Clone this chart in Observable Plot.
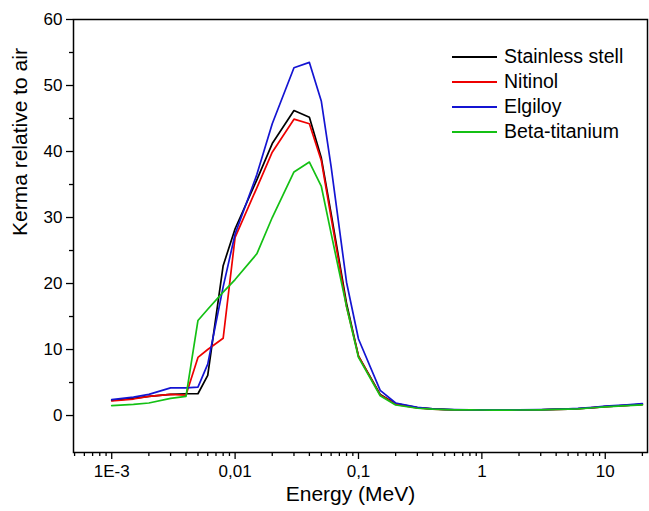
<!DOCTYPE html>
<html><head><meta charset="utf-8">
<script src="https://cdn.jsdelivr.net/npm/d3@7"></script>
<script src="https://cdn.jsdelivr.net/npm/@observablehq/plot@0.6"></script>
<style>
body{margin:0;background:#fff;font-family:"Liberation Sans",Arial,sans-serif;}
#wrap{position:relative;width:649px;height:511px;}
#legend{position:absolute;left:452px;top:44px;font-size:19.5px;color:#000;}
.row{display:flex;align-items:center;height:25px;}
.sw{width:45px;height:2px;margin-right:7px;}
</style></head><body><div id="wrap"><div id="legend"></div></div>
<script>
const energy = [0.001,0.0015,0.002,0.003,0.004,0.005,0.006,0.008,0.01,0.015,0.02,0.03,0.04,0.05,0.06,0.08,0.1,0.15,0.2,0.3,0.4,0.5,0.6,0.8,1,1.25,1.5,2,3,4,5,6,8,10,15,20];
const stainless = [2.3,2.6,2.9,3.2,3.3,3.3,6.1,22.7,28.3,35.7,41.2,46.2,45.2,39.0,30.6,17.0,9.0,3.2,1.8,1.2,1.0,0.92,0.88,0.85,0.84,0.83,0.83,0.84,0.88,0.93,0.98,1.03,1.2,1.35,1.55,1.7];
const nitinol = [2.2,2.5,2.9,3.2,3.1,8.8,10.0,11.7,27.0,34.5,39.9,44.9,44.2,38.6,30.0,16.5,9.0,3.1,1.7,1.15,0.98,0.9,0.87,0.85,0.84,0.83,0.83,0.84,0.88,0.93,0.98,1.03,1.2,1.35,1.55,1.7];
const elgiloy = [2.4,2.8,3.2,4.2,4.2,4.3,7.8,19.5,27.5,36.5,44.2,52.7,53.5,47.6,37.7,20.2,11.6,3.8,1.9,1.25,1.02,0.94,0.9,0.87,0.86,0.85,0.85,0.86,0.9,0.96,1.02,1.08,1.25,1.42,1.63,1.8];
const betaTitanium = [1.5,1.7,1.9,2.6,2.9,14.4,16.1,18.7,20.6,24.5,30.0,36.9,38.4,34.7,27.6,16.5,8.8,3.0,1.6,1.1,0.96,0.9,0.87,0.85,0.84,0.83,0.83,0.84,0.87,0.92,0.97,1.02,1.18,1.32,1.5,1.62];
const seriesNames = ["Stainless stell","Nitinol","Elgiloy","Beta-titanium"];
const seriesColors = ["#000000","#ee0000","#1414d2","#14c014"];
const xTickValues = [0.001,0.01,0.1,1,10];
const xTickLabels = ["1E-3","0,01","0,1","1","10"];
const yTickValues = [0,10,20,30,40,50,60];

const seriesValues = [stainless, nitinol, elgiloy, betaTitanium];
const data = seriesNames.flatMap((name, s) => energy.map((e, i) => ({energy: e, kerma: seriesValues[s][i], name})));
const xMinor = [];
for (const dec of [0.0001,0.001,0.01,0.1,1,10]) for (let m = 2; m <= 9; m++) { const v = dec*m; if (v > 4.9e-4 && v < 22) xMinor.push(v); }
const yMinor = [5,15,25,35,45,55];

const chart = Plot.plot({
  width: 649, height: 511,
  marginLeft: 73, marginRight: 2, marginTop: 19, marginBottom: 59,
  style: {fontFamily: "'Liberation Sans', Arial, sans-serif", fontSize: "17px", background: "#fff", color: "#000"},
  x: {type: "log", domain: [4.9e-4, 22]},
  y: {domain: [-5.6, 60]},
  color: {domain: seriesNames, range: seriesColors},
  marks: [
    Plot.axisX({ticks: xMinor, tickSize: 4, tickFormat: () => "", label: null, strokeWidth: 1.3}),
    Plot.axisX({ticks: xTickValues, tickSize: 7, tickPadding: 5, tickFormat: d => xTickLabels[xTickValues.indexOf(d)], label: null, strokeWidth: 1.3, fontSize: 17}),
    Plot.axisY({ticks: yMinor, tickSize: 4, tickFormat: () => "", label: null, strokeWidth: 1.3}),
    Plot.axisY({ticks: yTickValues, tickSize: 7, tickPadding: 4, label: null, strokeWidth: 1.3, fontSize: 17}),
    Plot.lineY(data, {x: "energy", y: "kerma", z: "name", stroke: "name", strokeWidth: 1.7}),
    Plot.frame({stroke: "#000", strokeWidth: 1.5}),
    Plot.text(["Kerma relative to air"], {frameAnchor: "left", rotate: -90, dx: -53, fontSize: 21}),
    Plot.text(["Energy (MeV)"], {frameAnchor: "bottom", dx: -10, dy: 48, fontSize: 21})
  ]
});
document.getElementById("wrap").prepend(chart);
const legend = document.getElementById("legend");
seriesNames.forEach((n, i) => {
  const row = document.createElement("div"); row.className = "row";
  const sw = document.createElement("div"); sw.className = "sw"; sw.style.background = seriesColors[i];
  const t = document.createElement("span"); t.textContent = n;
  row.append(sw, t); legend.append(row);
});
</script></body></html>
